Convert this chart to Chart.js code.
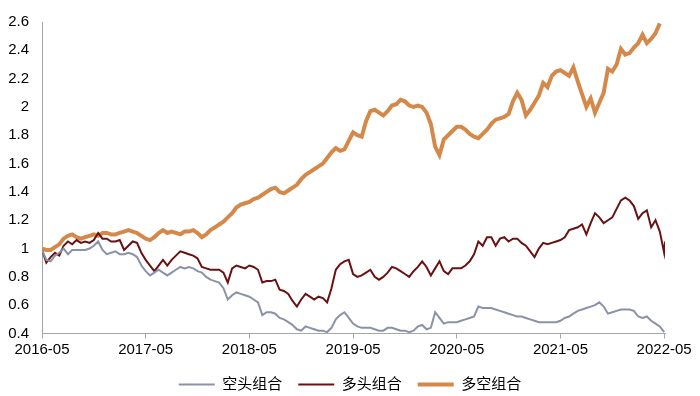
<!DOCTYPE html>
<html>
<head>
<meta charset="utf-8">
<script src="https://cdn.jsdelivr.net/npm/chart.js@4"></script>
<style>
html,body{margin:0;padding:0;background:#fff;}
#wrap{width:700px;height:396px;}
</style>
</head>
<body>
<div id="wrap"><canvas id="c" width="700" height="396"></canvas></div>
<script>
// x tick positions (months since 2016-05) and labels
const xTickValues = [0, 12, 24, 36, 48, 60, 72];
const xTickLabels = ['2016-05','2017-05','2018-05','2019-05','2020-05','2021-05','2022-05'];
const yTickLabels = ['0.4','0.6','0.8','1','1.2','1.4','1.6','1.8','2','2.2','2.4','2.6'];
const seriesNames = ['空头组合','多头组合','多空组合'];

// half-month sample grid (months since 2016-05), plus final trading day
const months = [];
for (let i = 0; i <= 144; i++) months.push(i / 2);
months.push(72.1);

// 空头组合
const shortLeg = [
0.99,0.92,0.91,0.95,0.97,1.00,0.96,0.99,0.99,0.99,
0.99,1.00,1.02,1.05,0.99,0.96,0.97,0.98,0.96,0.96,
0.97,0.96,0.94,0.88,0.84,0.81,0.83,0.85,0.83,0.81,
0.83,0.85,0.87,0.86,0.87,0.86,0.84,0.83,0.80,0.78,
0.77,0.76,0.72,0.64,0.67,0.69,0.68,0.67,0.66,0.64,
0.62,0.53,0.55,0.55,0.54,0.51,0.50,0.48,0.46,0.43,
0.42,0.45,0.44,0.43,0.42,0.42,0.41,0.44,0.50,0.53,
0.55,0.51,0.47,0.45,0.44,0.44,0.44,0.43,0.42,0.42,
0.44,0.44,0.43,0.42,0.42,0.41,0.42,0.45,0.46,0.43,
0.44,0.55,0.51,0.47,0.48,0.48,0.48,0.49,0.50,0.51,
0.52,0.59,0.58,0.58,0.58,0.57,0.56,0.55,0.54,0.53,
0.52,0.52,0.51,0.50,0.49,0.48,0.48,0.48,0.48,0.48,
0.49,0.51,0.52,0.54,0.56,0.57,0.58,0.59,0.60,0.62,
0.59,0.54,0.55,0.56,0.57,0.57,0.57,0.56,0.52,0.51,
0.52,0.49,0.47,0.45,0.41,null
];

// 多头组合
const longLeg = [
0.99,0.90,0.94,0.97,0.95,1.02,1.05,1.03,1.06,1.04,
1.05,1.04,1.06,1.11,1.07,1.07,1.05,1.05,1.06,0.99,
1.02,1.05,1.04,0.97,0.92,0.88,0.84,0.88,0.92,0.88,
0.92,0.95,0.98,0.97,0.96,0.95,0.93,0.87,0.86,0.85,
0.85,0.85,0.83,0.76,0.86,0.88,0.87,0.86,0.88,0.87,
0.85,0.76,0.77,0.77,0.78,0.71,0.70,0.68,0.63,0.59,
0.64,0.68,0.66,0.64,0.66,0.65,0.62,0.72,0.85,0.89,
0.91,0.92,0.82,0.80,0.81,0.83,0.85,0.80,0.78,0.80,
0.83,0.87,0.86,0.84,0.82,0.80,0.84,0.87,0.91,0.87,
0.81,0.86,0.91,0.84,0.82,0.86,0.86,0.86,0.88,0.91,
0.96,1.05,1.02,1.08,1.08,1.02,1.07,1.08,1.05,1.07,
1.07,1.04,1.02,0.98,0.94,1.00,1.04,1.03,1.04,1.05,
1.06,1.08,1.13,1.14,1.15,1.17,1.10,1.18,1.25,1.22,
1.18,1.20,1.22,1.28,1.34,1.36,1.34,1.30,1.21,1.25,
1.27,1.15,1.20,1.12,0.97,1.05
];

// 多空组合
const longShort = [
1.00,0.99,0.99,1.01,1.03,1.07,1.09,1.10,1.08,1.07,
1.08,1.09,1.10,1.09,1.11,1.11,1.10,1.10,1.11,1.12,
1.13,1.12,1.11,1.09,1.07,1.06,1.08,1.11,1.13,1.11,
1.12,1.11,1.10,1.12,1.12,1.13,1.11,1.08,1.10,1.13,
1.15,1.17,1.19,1.22,1.25,1.29,1.31,1.32,1.33,1.35,
1.36,1.38,1.40,1.42,1.43,1.40,1.39,1.41,1.43,1.45,
1.49,1.52,1.54,1.56,1.58,1.60,1.64,1.68,1.71,1.69,
1.70,1.76,1.82,1.80,1.79,1.90,1.97,1.98,1.96,1.94,
1.97,2.01,2.02,2.05,2.04,2.01,2.00,2.01,2.00,1.96,
1.88,1.72,1.66,1.77,1.80,1.83,1.86,1.86,1.84,1.81,
1.79,1.78,1.81,1.84,1.88,1.91,1.92,1.93,1.95,2.04,
2.10,2.05,1.94,1.98,2.03,2.08,2.17,2.14,2.22,2.25,
2.26,2.24,2.22,2.28,2.18,2.09,2.00,2.06,1.96,2.03,
2.10,2.27,2.25,2.30,2.41,2.37,2.38,2.42,2.45,2.51,
2.45,2.48,2.52,2.59,null,null
];

const toPts = arr => months.map((m, i) => ({x: m, y: arr[i]}));
const FONT = "'Liberation Sans', 'Noto Sans CJK SC', Arial, sans-serif";
const AXIS = '#a6a6a6';

const legendHeight = {
  id: 'legendHeight',
  beforeUpdate(chart) {
    const lg = chart.legend;
    if (lg && !lg._patched) {
      const orig = lg.fit;
      lg.fit = function () { orig.call(this); this.height = 35; };
      lg._patched = true;
    }
  }
};

new Chart(document.getElementById('c'), {
  type: 'line',
  data: {
    datasets: [
      {label: seriesNames[0], data: toPts(shortLeg), borderColor: '#8b91a9', backgroundColor: '#8b91a9', borderWidth: 2, pointRadius: 0, pointStyle: 'line', tension: 0, yAxisID: 'y'},
      {label: seriesNames[1], data: toPts(longLeg), borderColor: '#6a1212', backgroundColor: '#6a1212', borderWidth: 2, pointRadius: 0, pointStyle: 'line', tension: 0, yAxisID: 'y'},
      {label: seriesNames[2], data: toPts(longShort), borderColor: '#d4894a', backgroundColor: '#d4894a', borderWidth: 4, pointRadius: 0, pointStyle: 'line', tension: 0, yAxisID: 'y'}
    ]
  },
  options: {
    responsive: false,
    devicePixelRatio: 1,
    animation: false,
    layout: {padding: {top: 22, right: 0, bottom: 0, left: 0}},
    scales: {
      x: {
        type: 'linear', min: 0, max: 72.1,
        afterBuildTicks: s => { s.ticks = xTickValues.map(v => ({value: v})); },
        ticks: {callback: (v, i) => xTickLabels[i], font: {family: FONT, size: 15}, color: '#000', padding: 2, maxRotation: 0, autoSkip: false},
        grid: {display: true, drawOnChartArea: false, drawTicks: true, tickLength: 5, color: AXIS},
        border: {display: true, color: AXIS, width: 1},
        afterFit: s => { s.height = 27.5; }
      },
      y: {
        min: 0.4, max: 2.6,
        ticks: {stepSize: 0.2, callback: (v, i) => yTickLabels[i], font: {family: FONT, size: 15}, color: '#000', padding: 13},
        grid: {display: false, drawTicks: false},
        border: {display: true, color: AXIS, width: 1},
        afterFit: s => { s.width = 42; }
      },
      yr: {
        position: 'right', min: 0.4, max: 2.6,
        ticks: {display: false},
        grid: {display: false, drawTicks: false},
        border: {display: false},
        afterFit: s => { s.width = 35; }
      }
    },
    plugins: {
      tooltip: {enabled: false},
      legend: {
        position: 'bottom',
        labels: {
          usePointStyle: true, pointStyleWidth: 36,
          font: {family: FONT, size: 15}, color: '#000', padding: 16,
          sort: (a, b) => a.datasetIndex - b.datasetIndex
        }
      }
    }
  },
  plugins: [legendHeight]
});
</script>
</body>
</html>
